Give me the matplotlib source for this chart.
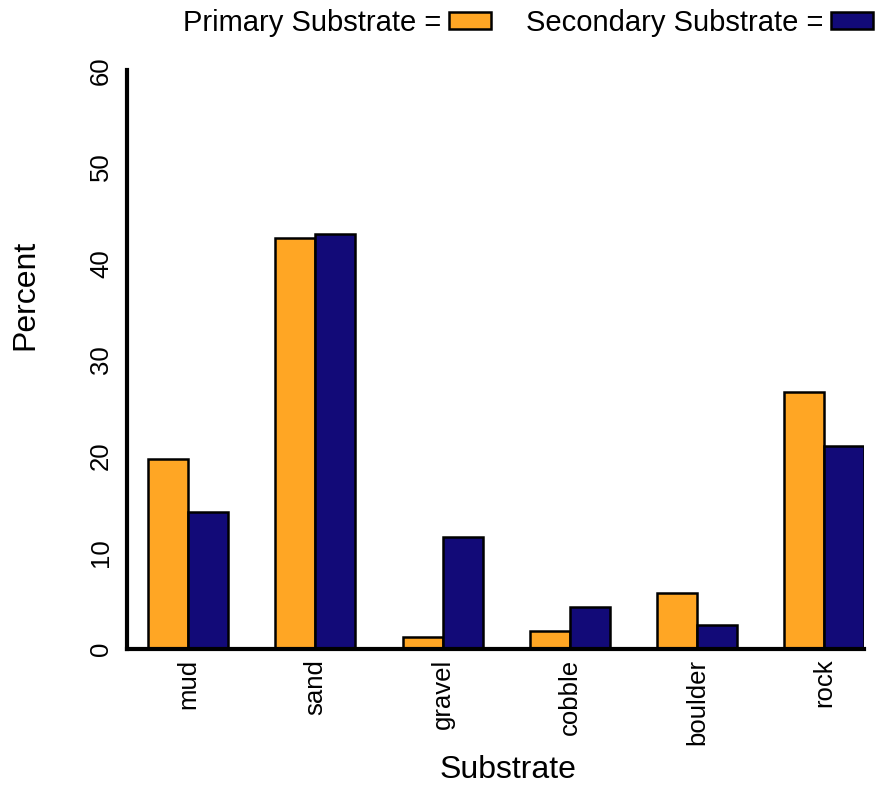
import numpy as np
import matplotlib
matplotlib.use("Agg")
import matplotlib.pyplot as plt
from matplotlib.patches import Patch

# substrate composition (percent of sites)
categories = ["mud", "sand", "gravel", "cobble", "boulder", "rock"]
primary = [19.7, 42.6, 1.2, 1.9, 5.8, 26.6]
secondary = [14.2, 43.0, 11.6, 4.3, 2.5, 21.0]

ORANGE = "#FFA624"
NAVY = "#120A78"

plt.rcParams["font.family"] = ["Liberation Sans", "DejaVu Sans"]

fig = plt.figure(figsize=(8.82, 7.89), dpi=100)
ax = fig.add_axes([0.144, 0.1775, 0.836, 0.7335])

w = 0.314
x = np.arange(len(categories))
ax.bar(x, primary, w, align="edge", color=ORANGE, edgecolor="black", lw=1.8)
ax.bar(x + w, secondary, w, align="edge", color=NAVY, edgecolor="black", lw=1.8)

ax.set_xlim(-0.165, x[-1] + 2 * w)
ax.set_ylim(0, 60)
ax.set_yticks(range(0, 61, 10))
ax.set_xticks(x + w, categories, rotation=90)
ax.tick_params(length=0, labelsize=18.5)
ax.tick_params(axis="y", pad=10)
ax.tick_params(axis="x", pad=7)
for t in ax.get_yticklabels():
    t.set_rotation(90)
    t.set_va("center")

for s in ["top", "right"]:
    ax.spines[s].set_visible(False)
for s in ["left", "bottom"]:
    ax.spines[s].set_linewidth(3)

ax.set_ylabel("Percent", fontsize=23)
ax.set_xlabel("Substrate", fontsize=23)
ax.yaxis.set_label_coords(-0.118, 0.611)
ax.xaxis.set_label_coords(0.517, -0.183)

handles = [Patch(facecolor=ORANGE, edgecolor="black", lw=1.8),
           Patch(facecolor=NAVY, edgecolor="black", lw=1.8)]
fig.legend(handles, ["Primary Substrate =", "Secondary Substrate ="],
           ncol=2, loc="upper right", bbox_to_anchor=(1.0, 1.0),
           markerfirst=False, frameon=False, fontsize=21,
           handlelength=1.45, handleheight=0.55, handletextpad=0.25,
           columnspacing=1.2, borderaxespad=0.1, borderpad=0.2)

fig.savefig("out.png", dpi=100)
